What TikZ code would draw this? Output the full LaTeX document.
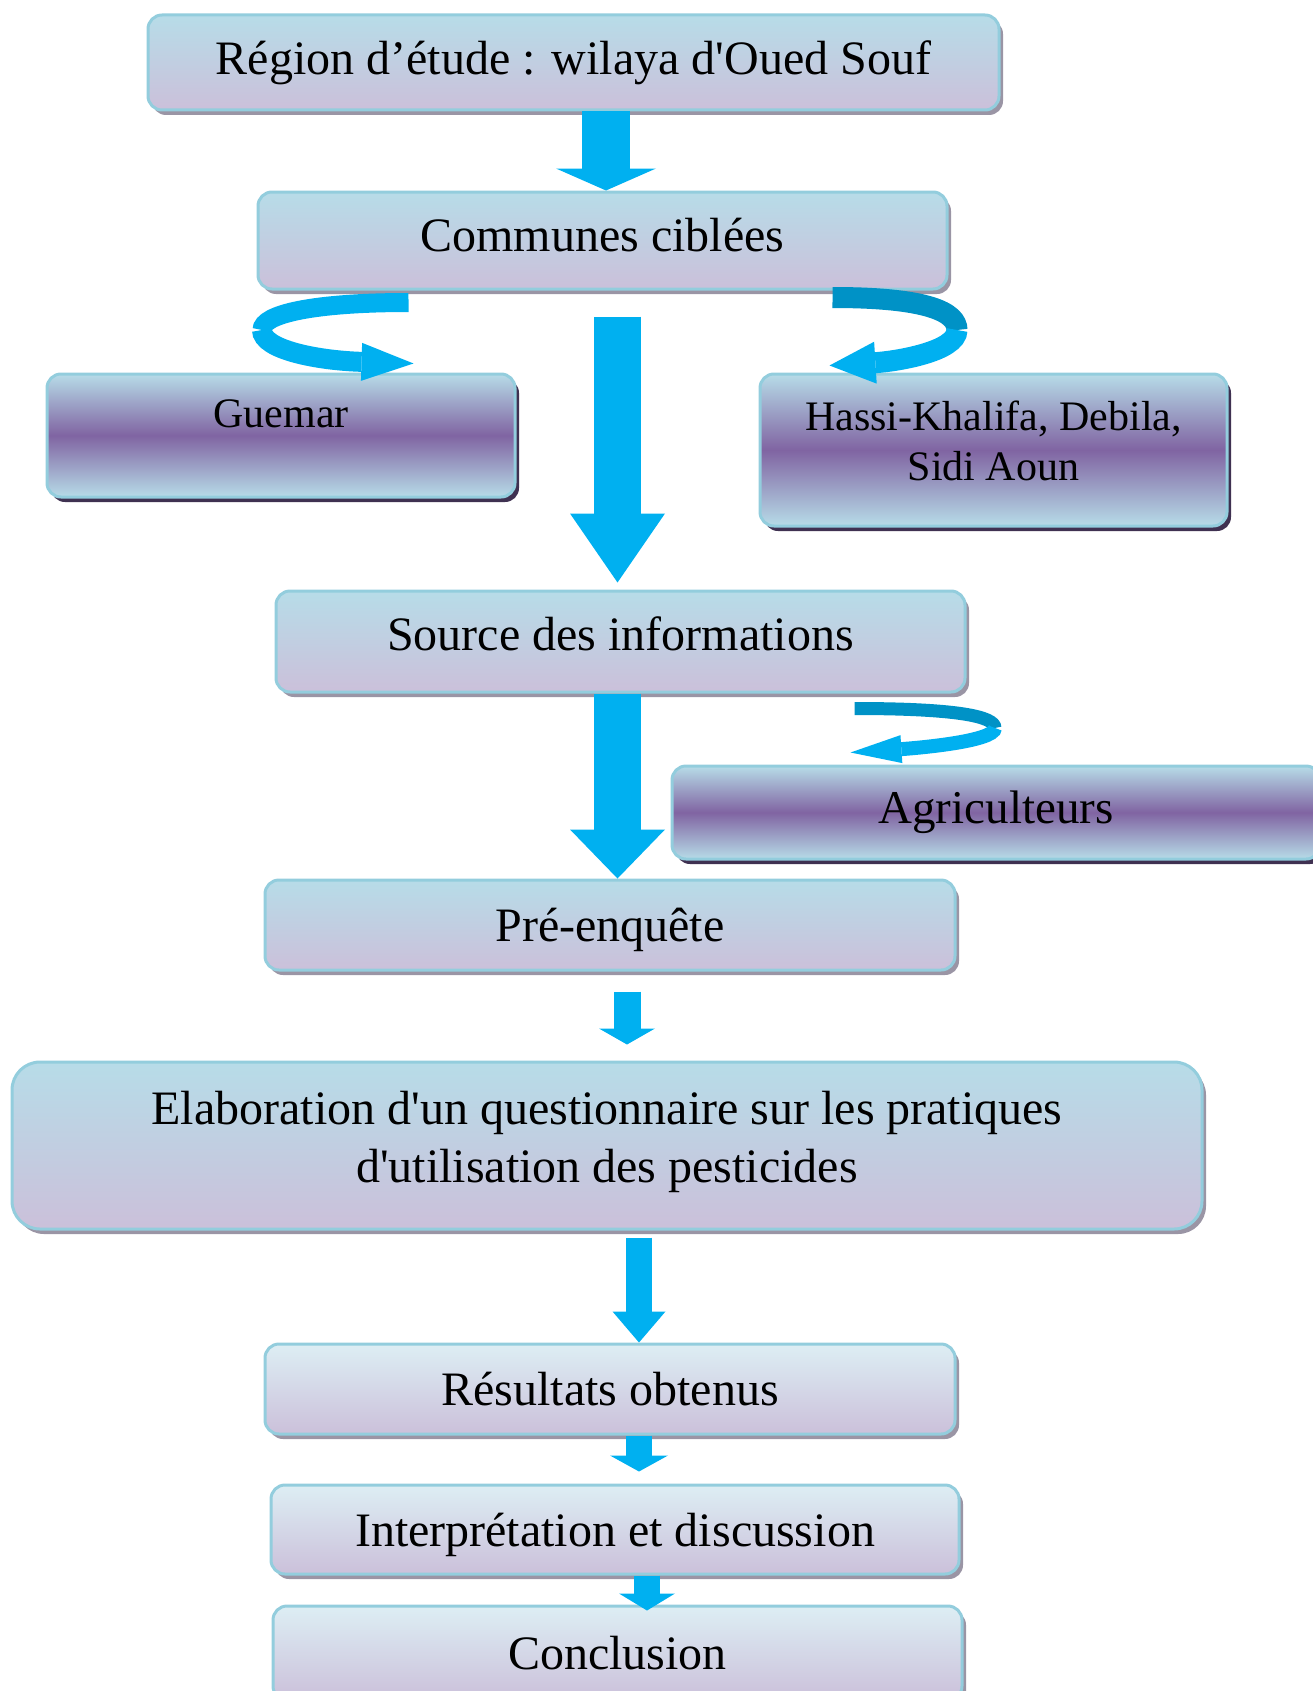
\documentclass[tikz,border=0pt]{standalone}
\usepackage{fontspec}
\setmainfont{Liberation Serif}[Ligatures=TeXOff]
\usetikzlibrary{calc, positioning, arrows.meta, shadows}

\definecolor{boxtop}{HTML}{B7DCE8}
\definecolor{boxbottom}{HTML}{CBC0DA}
\definecolor{paletop}{HTML}{DDEEF4}
\definecolor{purplemid}{HTML}{8064A2}
\definecolor{boxline}{HTML}{93CDDD}
\definecolor{shadowgray}{HTML}{9A95A5}
\definecolor{shadowdark}{HTML}{3F3151}
\definecolor{arrowblue}{HTML}{00B0F0}
\definecolor{arrowdark}{HTML}{0092C6}

\tikzset{
  boxbase/.style={draw=boxline, line width=3pt, rounded corners=14pt, align=center, inner sep=0pt},
  mainbox/.style={boxbase, top color=boxtop, bottom color=boxbottom,
    drop shadow={shadow xshift=4pt, shadow yshift=-5pt, fill=shadowgray, opacity=1},
    font=\fontsize{48}{58}\selectfont},
  palebox/.style={mainbox, top color=paletop, bottom color=boxbottom},
  sidebox/.style={boxbase, top color=boxtop, bottom color=boxtop, middle color=purplemid,
    drop shadow={shadow xshift=4pt, shadow yshift=-5pt, fill=shadowdark, opacity=1},
    font=\fontsize{42}{50}\selectfont},
  blockarrow/.style n args={3}{draw=arrowblue, line width=#1, -{Triangle[width=#2, length=#3, line width=0pt]}},
  curlback/.style 2 args={draw=#2, line width=#1},
  curlfront/.style n args={3}{draw=arrowblue, line width=#1, -{Triangle[width=#2, length=#3, line width=0pt]}}
}

\begin{document}
\begin{tikzpicture}[x=1pt, y=-1pt]
    \useasboundingbox (0,0) rectangle (1312,1691);
    % nodes %
    \node[mainbox, minimum width=851pt, minimum height=95pt] (region) at (573.5,62.5) {Région d’étude : wilaya d'Oued Souf};
    \node[mainbox, minimum width=689pt, minimum height=97pt, text depth=11pt] (comm) at (602.5,240.5) {Communes ciblées};
    \node[sidebox, minimum width=468pt, minimum height=123pt, text depth=43pt] (guemar) at (281,435.5) {Guemar};
    \node[sidebox, minimum width=467pt, minimum height=152pt, text depth=18pt] (hassi) at (993.5,450) {Hassi-Khalifa, Debila,\\ Sidi Aoun};
    \node[mainbox, minimum width=689pt, minimum height=101pt, text depth=15pt] (source) at (620.5,641.5) {Source des informations};
    \node[sidebox, minimum width=648pt, minimum height=93pt, font=\fontsize{47}{56}\selectfont] (agri) at (996,812.5) {Agriculteurs};
    \node[mainbox, minimum width=690pt, minimum height=90pt, text depth=0pt] (pre) at (610,925) {Pré-enquête};
    \node[mainbox, minimum width=1190pt, minimum height=167pt, rounded corners=28pt, text depth=18pt] (elab) at (607,1145.5) {Elaboration d'un questionnaire sur les pratiques\\ d'utilisation des pesticides};
    \node[palebox, minimum width=690pt, minimum height=90pt] (result) at (610,1389) {Résultats obtenus};
    \node[palebox, minimum width=688pt, minimum height=89pt, text depth=0pt] (interp) at (615,1529.5) {Interprétation et discussion};
    \node[palebox, minimum width=689pt, minimum height=94pt] (concl) at (617.5,1653) {Conclusion};

    % edges %
    \coordinate (x1) at (606,0);
    \coordinate (x2) at (617.5,0);
    \coordinate (x4) at (627,0);
    \coordinate (x5) at (639,0);
    \coordinate (x7) at (647,0);
    \draw[blockarrow={48pt}{100pt}{22pt}] (x1 |- region.south) -- (x1 |- comm.north);
    \draw[blockarrow={47pt}{95pt}{69pt}, shorten <=26pt, shorten >=7pt] (x2 |- comm.south) -- (x2 |- source.north);
    \draw[blockarrow={47pt}{95pt}{49pt}] (x2 |- source.south) -- (x2 |- pre.north);
    \draw[blockarrow={27pt}{56pt}{16pt}, shorten <=20pt, shorten >=16pt] (x4 |- pre.south) -- (x4 |- elab.north);
    \draw[blockarrow={26pt}{53pt}{31pt}, shorten <=7pt] (x5 |- elab.south) -- (x5 |- result.north);
    \draw[blockarrow={26pt}{58pt}{16pt}, shorten >=12pt] (x5 |- result.south) -- (x5 |- interp.north);
    \draw[blockarrow={26pt}{56pt}{17pt}, shorten >=-6pt] (x7 |- interp.south) -- (x7 |- concl.north);

    % curled arrows %
    \coordinate (gbend) at (262,330);
    \coordinate (hbend) at (957,330);
    \coordinate (abend) at (995,728);
    \draw[curlback={19pt}{arrowblue}] ([xshift=152pt,yshift=-12pt]comm.south west) .. controls +(-95,0) and +(0,-16) .. (gbend);
    \draw[curlfront={20pt}{38pt}{52pt}] (gbend) .. controls +(0,20) and +(-95,-3) .. ([xshift=-103pt,yshift=9pt]guemar.north east);
    \draw[curlback={21pt}{arrowdark}] ([xshift=-116pt,yshift=-7pt]comm.south east) .. controls +(95,0) and +(0,-18) .. (hbend);
    \draw[curlfront={21pt}{42pt}{46pt}] (hbend) .. controls +(0,22) and +(65,-4) .. ([xshift=71pt,yshift=7pt]hassi.north west);
    \draw[curlback={13pt}{arrowdark}] ([xshift=-112pt,yshift=-15pt]source.south east) .. controls +(100,0) and +(0,-12) .. (abend);
    \draw[curlfront={14pt}{28pt}{51pt}] (abend) .. controls +(0,14) and +(60,-4) .. ([xshift=180pt,yshift=12pt]agri.north west);
\end{tikzpicture}
\end{document}
